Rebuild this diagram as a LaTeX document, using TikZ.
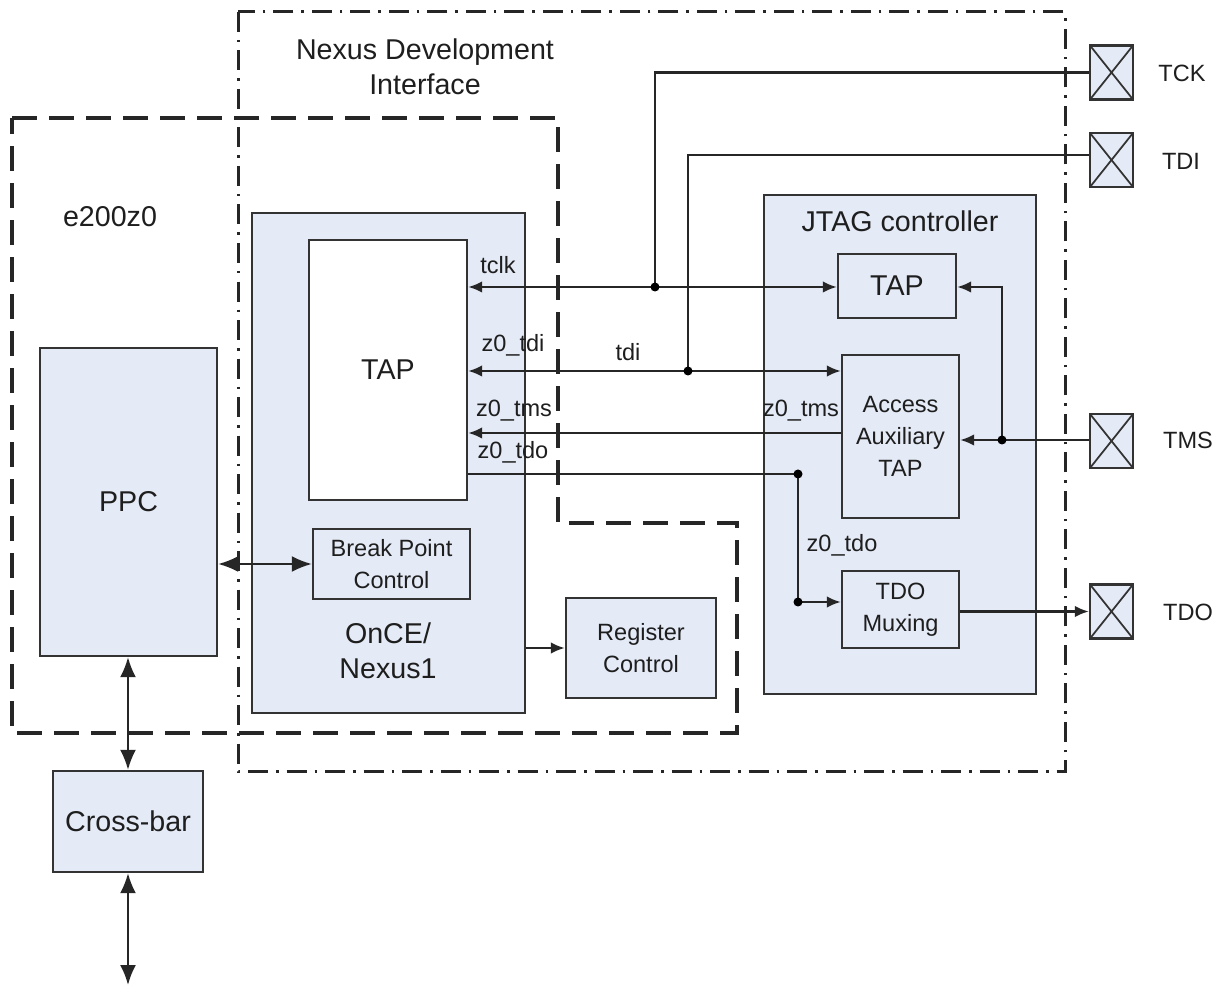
\documentclass[tikz,border=0pt]{standalone}
\usepackage{fontspec}
\setmainfont{Liberation Sans}
\usetikzlibrary{arrows.meta,positioning,calc}
\definecolor{blkfill}{RGB}{228,234,246}
\definecolor{txt}{RGB}{30,30,30}
\tikzset{
  blk/.style={draw=black!80,fill=blkfill,line width=0.45mm,inner sep=0pt,text=txt},
  pad/.style={blk,minimum width=8.6mm,minimum height=10.8mm,
    path picture={\draw[black!80,line width=0.35mm]
      (path picture bounding box.north west) -- (path picture bounding box.south east)
      (path picture bounding box.south west) -- (path picture bounding box.north east);}},
  big/.style={font=\fontsize{16.3}{20}\selectfont,text=txt},
  sml/.style={font=\fontsize{13.4}{18}\selectfont,text=txt},
}

\begin{document}
\begin{tikzpicture}[x=0.2mm,y=-0.2mm,
   wire/.style={line width=0.45mm,black!85},
   arr/.style={wire,-{Latex[length=2.8mm,width=2.3mm]}},
   barr/.style={wire,{Latex[length=2.8mm,width=2.3mm]}-{Latex[length=2.8mm,width=2.3mm]}},
   bus/.style={wire,{Latex[length=4mm,width=3.2mm]}-{Latex[length=4mm,width=3.2mm]}},
   dot/.style={circle,fill=black,inner sep=0pt,minimum size=1.8mm}]
  \useasboundingbox (0,0) rectangle (1219,986);
  % frames
  \draw[line width=0.6mm,black!85,dash pattern=on 4mm off 1.6mm on 0.5mm off 1.6mm]
    (238,12) rectangle (1065,772);
  \draw[line width=0.7mm,black!85,dash pattern=on 5mm off 2.4mm]
    (12,118) -- (558,118) -- (558,523) -- (737,523) -- (737,733) -- (12,733) -- cycle;
  \node[big,align=center] (ndi) at (425,67) {Nexus Development\\Interface};
  \node[big] (core) at (110,217) {e200z0};
  % e200z0 side
  \node[blk,minimum width=35.4mm,minimum height=61.6mm,big] (ppc) at (128.5,502) {PPC};
  \node[blk,minimum width=30mm,minimum height=20.2mm,big] (xbar) at (128,821.5) {Cross-bar};
  \node[blk,minimum width=54.6mm,minimum height=100mm] (once) at (388.5,463) {};
  \node[blk,fill=white,minimum width=31.6mm,minimum height=52mm,big] (tapi) at (388,370) {TAP};
  \node[blk,minimum width=31.4mm,minimum height=14mm,sml,align=center] (bpc) at (391.5,564) {Break Point\\Control};
  \node[big,align=center] (oncelbl) at (388,651) {OnCE/\\Nexus1};
  \node[blk,minimum width=30mm,minimum height=20mm,sml,align=center] (regc) at (641,648) {Register\\Control};
  % JTAG side
  \node[blk,minimum width=54.4mm,minimum height=99.8mm] (jtag) at (900,444.5) {};
  \node[big,anchor=north] (jtaglbl) at ([yshift=-2.2mm]jtag.north) {JTAG controller};
  \node[blk,minimum width=23.6mm,minimum height=12.8mm,big] (tapj) at (897,286) {TAP};
  \node[blk,minimum width=23.4mm,minimum height=32.6mm,sml,align=center] (aat) at (900.5,436.5) {Access\\Auxiliary\\TAP};
  \node[blk,minimum width=23.4mm,minimum height=15.4mm,sml,align=center] (tdom) at (900.5,609.5) {TDO\\Muxing};
  % pins
  \node[pad] (tck) at (1111.5,72.5) {};
  \node[pad] (tdi) at (1111.5,160) {};
  \node[pad] (tms) at (1111.5,441) {};
  \node[pad] (tdo) at (1111.5,611.5) {};
  \node[sml] (tcklbl) at (1182,73) {TCK};
  \node[sml] (tdilbl) at (1181,161) {TDI};
  \node[sml] (tmslbl) at (1188,440) {TMS};
  \node[sml] (tdolbl) at (1188,612) {TDO};
  % junctions
  \coordinate (jck) at (655,287);
  \coordinate (jdi) at (688,371);
  \coordinate (jms) at (1002,440);
  \coordinate (jdo) at (798,474);
  \coordinate (jdo2) at (798,602);
  % signals
  \draw[barr] (tapi.east |- jck) -- (tapj.west |- jck);
  \draw[wire] (tck.west) -| (jck);
  \draw[barr] (tapi.east |- jdi) -- (aat.west |- jdi);
  \draw[wire] (tdi.west |- 0,155) -| (jdi);
  \draw[arr] (aat.west |- 0,433) -- (tapi.east |- 0,433);
  \draw[wire] (tapi.east |- jdo) -- (jdo) -- (jdo2);
  \draw[arr] (jdo2) -- (tdom.west |- jdo2);
  \draw[wire] (tms.west |- jms) -- (jms);
  \draw[arr] (jms) -- (aat.east |- jms);
  \draw[arr] (jms) |- (tapj.east |- jck);
  \draw[arr] (tdom.east |- tdo.west) -- (tdo.west);
  \draw[bus] (ppc.east |- bpc.west) -- (bpc.west);
  \draw[arr] (once.east |- regc.west) -- (regc.west);
  \draw[bus] (xbar.north |- ppc.south) -- (xbar.north);
  \coordinate (busend) at (128,985);
  \draw[bus] (xbar.south) -- (busend);
  \foreach \j in {jck,jdi,jms,jdo,jdo2} \node[dot] at (\j) {};
  % signal names
  \node[sml] (tclklbl) at (498,265) {tclk};
  \node[sml] (zdilbl) at (513,345) {z0\_tdi};
  \node[sml] (tdiwlbl) at (628,352) {tdi};
  \node[sml] (zmslbl) at (514,411) {z0\_tms};
  \node[sml] (zmsrlbl) at (801,411) {z0\_tms};
  \node[sml] (zdolbl) at (513,452) {z0\_tdo};
  \node[sml] (zdorlbl) at (842,545) {z0\_tdo};
\end{tikzpicture}
\end{document}
